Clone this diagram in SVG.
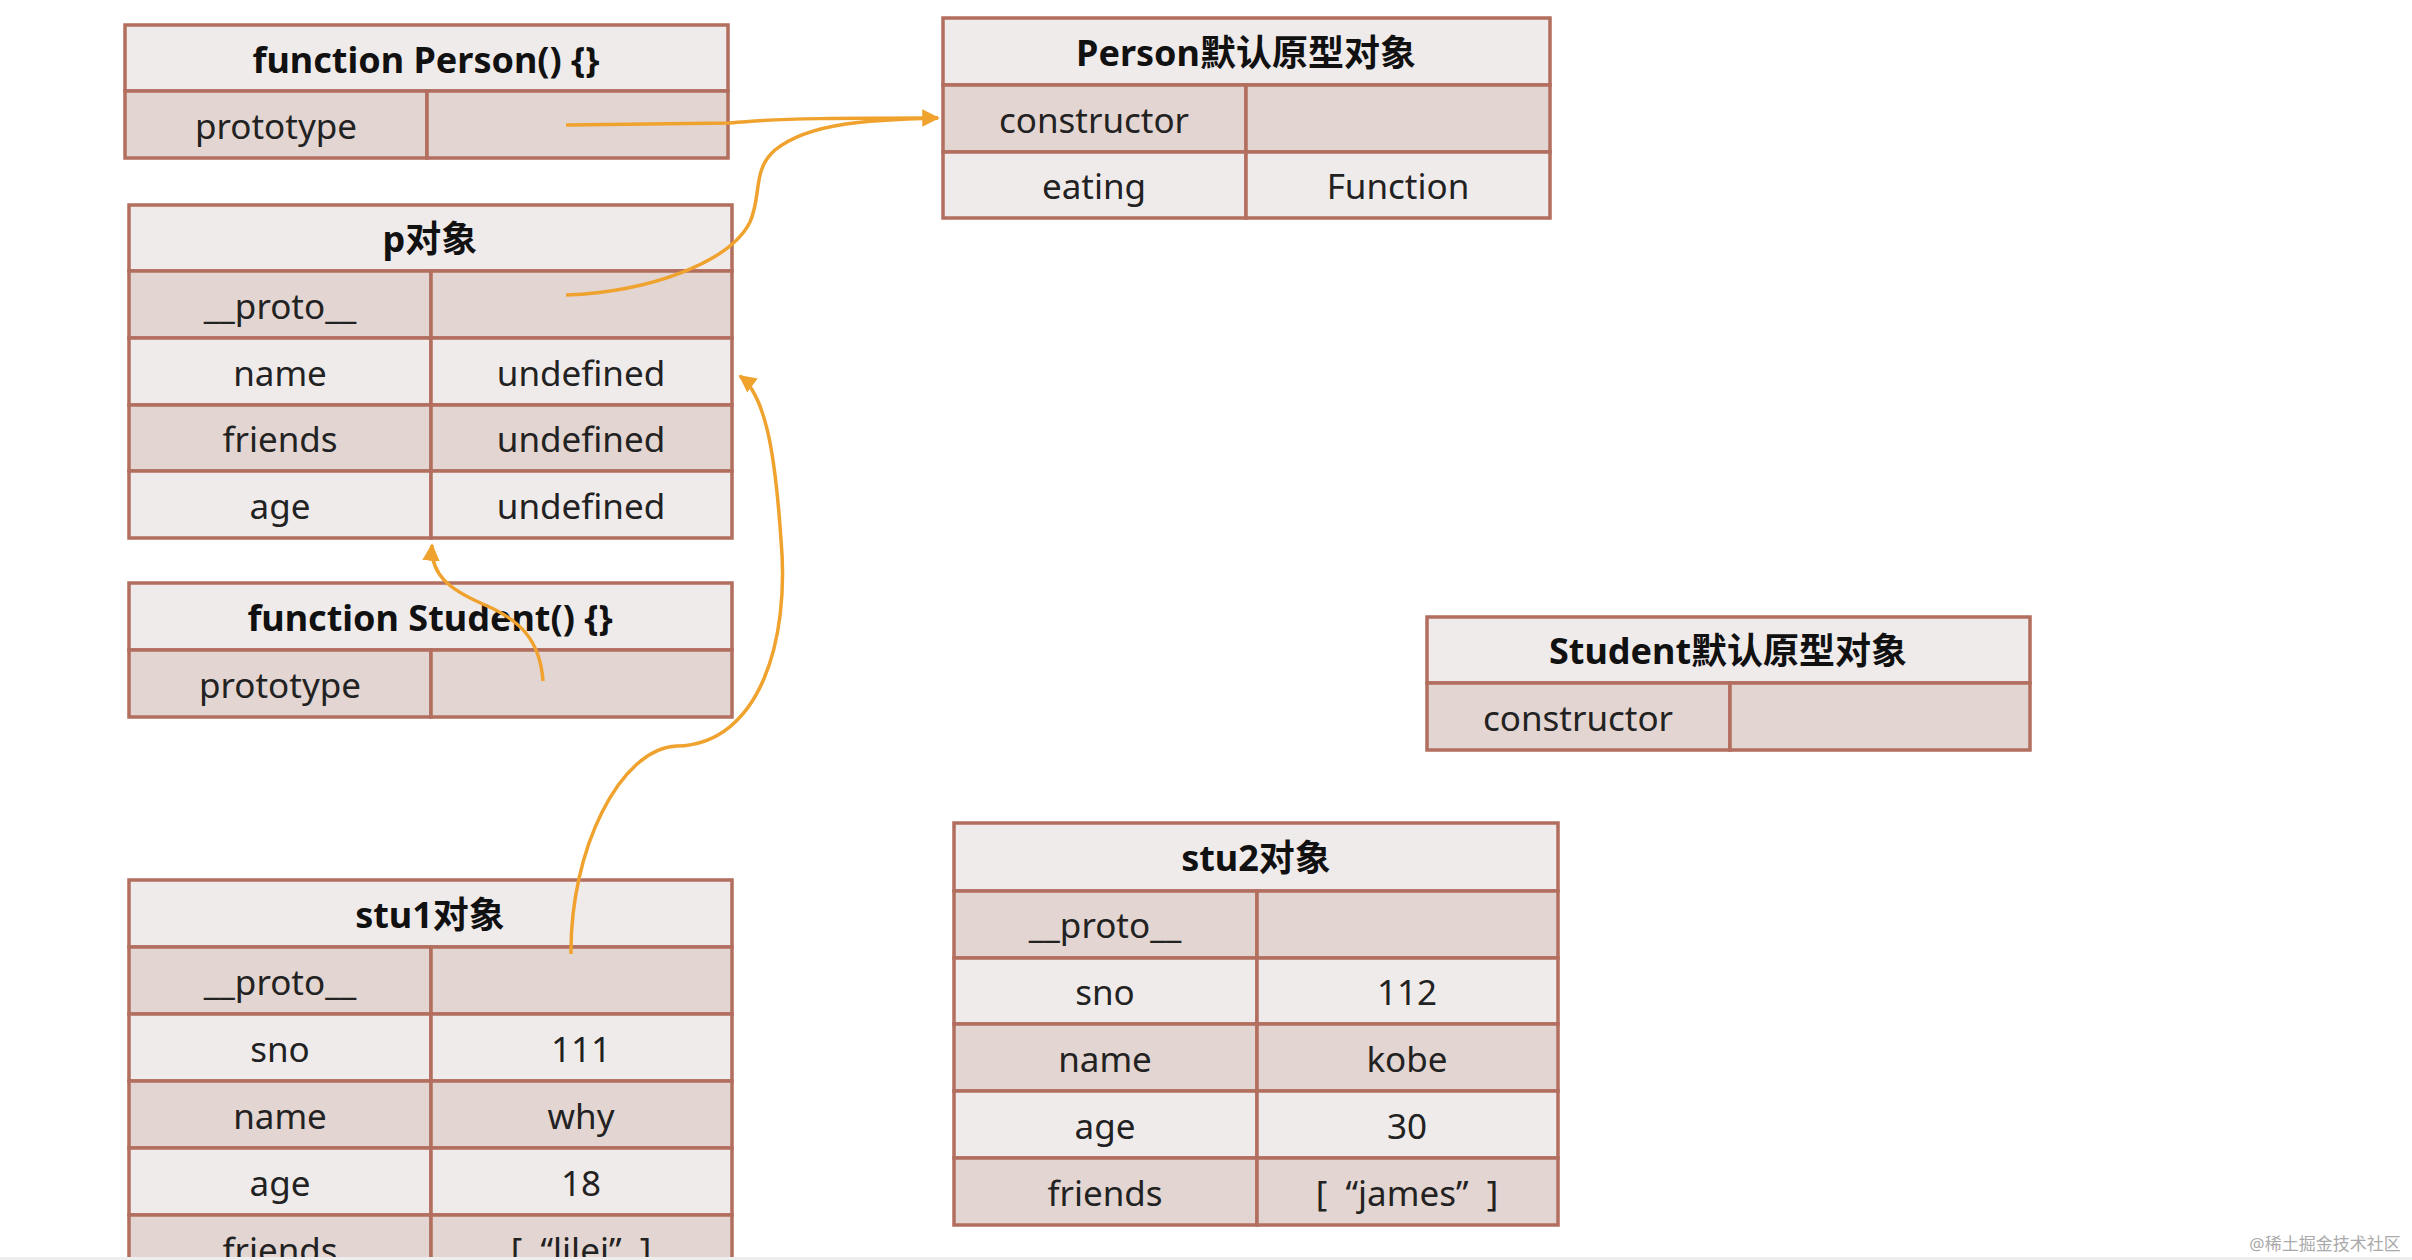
<svg xmlns="http://www.w3.org/2000/svg" width="2412" height="1260" viewBox="0 0 2412 1260">
<style>
.hd{fill:#f0ebeb;stroke:#b26e5e;stroke-width:3.5}
.dk{fill:#e3d5d1;stroke:#b26e5e;stroke-width:3.5}
.lt{fill:#f0ebeb;stroke:#b26e5e;stroke-width:3.5}
text{font-family:"Noto Sans","Noto Sans CJK SC",sans-serif;fill:#222;text-anchor:middle;dominant-baseline:central}
.h{font-size:36px;font-weight:bold;fill:#111}
.r{font-size:35px}
.c{fill:none;stroke:#f0a22e;stroke-width:3.5}
</style>
<defs>
<marker id="ah" viewBox="0 0 10 10" refX="9" refY="5" markerWidth="5" markerHeight="5" orient="auto"><path d="M0,0L10,5L0,10z" fill="#f0a22e"/></marker>
</defs>
<rect width="2412" height="1260" fill="#fff"/>
<g id="personFn">
<rect class="hd" x="125" y="25" width="603" height="66"/>
<rect class="dk" x="125" y="91" width="302" height="67"/>
<rect class="dk" x="427" y="91" width="301" height="67"/>
<text class="h" x="426" y="59">function Person() {}</text>
<text class="r" x="276" y="125">prototype</text>
</g>
<g id="personProto">
<rect class="hd" x="943" y="18" width="607" height="67"/>
<rect class="dk" x="943" y="85" width="303" height="67"/>
<rect class="dk" x="1246" y="85" width="304" height="67"/>
<rect class="lt" x="943" y="152" width="303" height="66"/>
<rect class="lt" x="1246" y="152" width="304" height="66"/>
<text class="h" x="1246" y="52">Person默认原型对象</text>
<text class="r" x="1094" y="119">constructor</text>
<text class="r" x="1094" y="185">eating</text>
<text class="r" x="1398" y="185">Function</text>
</g>
<g id="pObj">
<rect class="hd" x="129" y="205" width="603" height="66"/>
<rect class="dk" x="129" y="271" width="302" height="67"/><rect class="dk" x="431" y="271" width="301" height="67"/>
<rect class="lt" x="129" y="338" width="302" height="67"/><rect class="lt" x="431" y="338" width="301" height="67"/>
<rect class="dk" x="129" y="405" width="302" height="66"/><rect class="dk" x="431" y="405" width="301" height="66"/>
<rect class="lt" x="129" y="471" width="302" height="67"/><rect class="lt" x="431" y="471" width="301" height="67"/>
<text class="h" x="430" y="238">p对象</text>
<text class="r" x="280" y="305">__proto__</text>
<text class="r" x="280" y="372">name</text><text class="r" x="581" y="372">undefined</text>
<text class="r" x="280" y="438">friends</text><text class="r" x="581" y="438">undefined</text>
<text class="r" x="280" y="505">age</text><text class="r" x="581" y="505">undefined</text>
</g>
<g id="studentFn">
<rect class="hd" x="129" y="583" width="603" height="67"/>
<rect class="dk" x="129" y="650" width="302" height="67"/>
<rect class="dk" x="431" y="650" width="301" height="67"/>
<text class="h" x="430" y="617">function Student() {}</text>
<text class="r" x="280" y="684">prototype</text>
</g>
<g id="studentProto">
<rect class="hd" x="1427" y="617" width="603" height="66"/>
<rect class="dk" x="1427" y="683" width="303" height="67"/>
<rect class="dk" x="1730" y="683" width="300" height="67"/>
<text class="h" x="1728" y="650">Student默认原型对象</text>
<text class="r" x="1578" y="717">constructor</text>
</g>
<g id="stu1">
<rect class="hd" x="129" y="880" width="603" height="67"/>
<rect class="dk" x="129" y="947" width="302" height="67"/><rect class="dk" x="431" y="947" width="301" height="67"/>
<rect class="lt" x="129" y="1014" width="302" height="67"/><rect class="lt" x="431" y="1014" width="301" height="67"/>
<rect class="dk" x="129" y="1081" width="302" height="67"/><rect class="dk" x="431" y="1081" width="301" height="67"/>
<rect class="lt" x="129" y="1148" width="302" height="67"/><rect class="lt" x="431" y="1148" width="301" height="67"/>
<rect class="dk" x="129" y="1215" width="302" height="67"/><rect class="dk" x="431" y="1215" width="301" height="67"/>
<text class="h" x="430" y="914">stu1对象</text>
<text class="r" x="280" y="981">__proto__</text>
<text class="r" x="280" y="1048">sno</text><text class="r" x="581" y="1048">111</text>
<text class="r" x="280" y="1115">name</text><text class="r" x="581" y="1115">why</text>
<text class="r" x="280" y="1182">age</text><text class="r" x="581" y="1182">18</text>
<text class="r" x="280" y="1249">friends</text><text class="r" x="581" y="1249" xml:space="preserve">[  “lilei”  ]</text>
</g>
<g id="stu2">
<rect class="hd" x="954" y="823" width="604" height="68"/>
<rect class="dk" x="954" y="891" width="303" height="67"/><rect class="dk" x="1257" y="891" width="301" height="67"/>
<rect class="lt" x="954" y="958" width="303" height="66"/><rect class="lt" x="1257" y="958" width="301" height="66"/>
<rect class="dk" x="954" y="1024" width="303" height="67"/><rect class="dk" x="1257" y="1024" width="301" height="67"/>
<rect class="lt" x="954" y="1091" width="303" height="67"/><rect class="lt" x="1257" y="1091" width="301" height="67"/>
<rect class="dk" x="954" y="1158" width="303" height="67"/><rect class="dk" x="1257" y="1158" width="301" height="67"/>
<text class="h" x="1256" y="857">stu2对象</text>
<text class="r" x="1105" y="924">__proto__</text>
<text class="r" x="1105" y="991">sno</text><text class="r" x="1407" y="991">112</text>
<text class="r" x="1105" y="1058">name</text><text class="r" x="1407" y="1058">kobe</text>
<text class="r" x="1105" y="1125">age</text><text class="r" x="1407" y="1125">30</text>
<text class="r" x="1105" y="1192">friends</text><text class="r" x="1407" y="1192" xml:space="preserve">[  “james”  ]</text>
</g>
<g id="connectors">
<path class="c" d="M566,125 L730,123 C780,118 850,118 938,118" marker-end="url(#ah)"/>
<path class="c" d="M566,295 C650,292 730,262 750,222 C762,195 752,170 775,150 C810,122 870,120 938,118"/>
<path class="c" d="M543,681 C540,640 520,620 485,605 C450,590 430,575 432,545" marker-end="url(#ah)"/>
<path class="c" d="M571,954 C570,850 620,748 677,746 C760,744 790,640 781,540 C775,450 765,395 740,376" marker-end="url(#ah)"/>
</g>
<rect x="0" y="1257" width="2412" height="3" fill="#eeeeee"/>
<text x="2325" y="1243" style="font-size:17px;fill:#aaa">@稀土掘金技术社区</text>
</svg>
